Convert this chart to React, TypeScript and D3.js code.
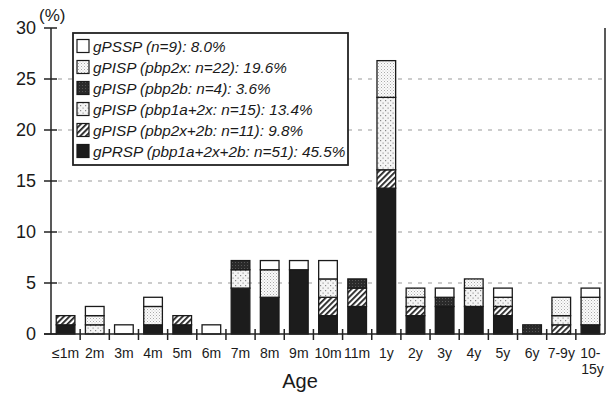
import * as d3 from "d3";

// age groups along the x axis
const ages = ["≤1m", "2m", "3m", "4m", "5m", "6m", "7m", "8m", "9m", "10m", "11m", "1y", "2y", "3y", "4y", "5y", "6y", "7-9y", "10-15y"];

// percentage of isolates per age group, bottom of the stack first
const prsp = [0.9, 0, 0, 0.9, 0.9, 0, 4.5, 3.6, 6.3, 1.8, 2.7, 14.3, 1.8, 2.7, 2.7, 1.8, 0, 0, 0.9];
const pisp2x2b = [0.9, 0, 0, 0, 0.9, 0, 0, 0, 0, 1.8, 1.8, 1.8, 0.9, 0, 0, 0.9, 0, 0.9, 0];
const pisp1a2x = [0, 0.9, 0, 0, 0, 0, 1.8, 0, 0, 1.8, 0, 7.1, 0.9, 0, 1.8, 0.9, 0, 0.9, 0];
const pisp2b = [0, 0, 0, 0, 0, 0, 0.9, 0, 0, 0, 0.9, 0, 0, 0.9, 0, 0, 0.9, 0, 0];
const pisp2x = [0, 0.9, 0, 1.8, 0, 0, 0, 2.7, 0, 0, 0, 3.6, 0.9, 0, 0.9, 0, 0, 1.8, 2.7];
const pssp = [0, 0.9, 0.9, 0.9, 0, 0.9, 0, 0.9, 0.9, 1.8, 0, 0, 0, 0.9, 0, 0.9, 0, 0, 0.9];

const yTicks = [0, 5, 10, 15, 20, 25, 30];

// legend order (top to bottom)
const legendItems = [
  { key: "pssp", label: "gPSSP (n=9): 8.0%" },
  { key: "pisp2x", label: "gPISP (pbp2x: n=22): 19.6%" },
  { key: "pisp2b", label: "gPISP (pbp2b: n=4): 3.6%" },
  { key: "pisp1a2x", label: "gPISP (pbp1a+2x: n=15): 13.4%" },
  { key: "pisp2x2b", label: "gPISP (pbp2x+2b: n=11): 9.8%" },
  { key: "prsp", label: "gPRSP (pbp1a+2x+2b: n=51): 45.5%" },
];

const stackKeys = ["prsp", "pisp2x2b", "pisp1a2x", "pisp2b", "pisp2x", "pssp"];

const fills: Record<string, string> = {
  prsp: "#1c1c1c",
  pisp2x2b: "url(#hatch)",
  pisp1a2x: "url(#sparseDots)",
  pisp2b: "url(#darkDots)",
  pisp2x: "url(#fineDots)",
  pssp: "#ffffff",
};

export default function App() {
  const width = 608;
  const height = 393;
  const font = "'Liberation Sans', Arial, Helvetica, sans-serif";

  const rows = ages.map((age, i) => ({
    age,
    prsp: prsp[i],
    pisp2x2b: pisp2x2b[i],
    pisp1a2x: pisp1a2x[i],
    pisp2b: pisp2b[i],
    pisp2x: pisp2x[i],
    pssp: pssp[i],
  }));

  const series = d3.stack<any>().keys(stackKeys)(rows);

  const x = d3.scaleBand().domain(ages).range([51, 605]).padding(0);
  const y = d3.scaleLinear().domain([0, 30]).range([334, 28]);

  const barW = x.bandwidth() * 0.64;
  const barOff = (x.bandwidth() - barW) / 2;

  const legend = { x: 73, y: 33, w: 275, h: 132 };

  return (
    <svg
      width={width}
      height={height}
      style={{ position: "absolute", left: 0, top: 0, background: "#fff" }}
      fontFamily={font}
    >
      <defs>
        <pattern id="hatch" width={4} height={4} patternUnits="userSpaceOnUse" patternTransform="rotate(45)">
          <rect width={4} height={4} fill="#fff" />
          <rect width={1.8} height={4} fill="#222" />
        </pattern>
        <pattern id="fineDots" width={3} height={3} patternUnits="userSpaceOnUse">
          <rect width={3} height={3} fill="#fbfbfb" />
          <rect x={0} y={0} width={1} height={1} fill="#aaa" />
          <rect x={1.5} y={1.5} width={1} height={1} fill="#c4c4c4" />
        </pattern>
        <pattern id="sparseDots" width={5} height={5} patternUnits="userSpaceOnUse">
          <rect width={5} height={5} fill="#f4f4f4" />
          <rect x={0} y={0} width={1.2} height={1.2} fill="#888" />
          <rect x={2.5} y={2.5} width={1.2} height={1.2} fill="#999" />
        </pattern>
        <pattern id="darkDots" width={3} height={3} patternUnits="userSpaceOnUse">
          <rect width={3} height={3} fill="#2a2a2a" />
          <rect x={1} y={1} width={1} height={1} fill="#555" />
        </pattern>
      </defs>

      {/* grid lines */}
      {yTicks
        .filter((t) => t > 0 && t < 30)
        .map((t) => (
          <line
            key={`g${t}`}
            x1={58}
            x2={605}
            y1={y(t)}
            y2={y(t)}
            stroke="#999"
            strokeWidth={1}
            strokeDasharray="4,6"
          />
        ))}

      {/* bars */}
      {series.map((s) =>
        s.map((d, i) => {
          const h = y(d[0]) - y(d[1]);
          if (h <= 0.1) return null;
          return (
            <rect
              key={`${s.key}-${i}`}
              x={(x(ages[i]) || 0) + barOff}
              y={y(d[1])}
              width={barW}
              height={h}
              fill={fills[s.key]}
              stroke="#1a1a1a"
              strokeWidth={1.3}
            />
          );
        })
      )}

      {/* legend */}
      <rect x={legend.x} y={legend.y} width={legend.w} height={legend.h} fill="#fff" stroke="#222" strokeWidth={1.8} />
      {legendItems.map((item, i) => {
        const cy = 46 + i * 21;
        return (
          <g key={item.key}>
            <rect x={77} y={cy - 6.5} width={12} height={13} fill={fills[item.key]} stroke="#1a1a1a" strokeWidth={1.2} />
            <text x={93} y={cy} dominantBaseline="central" fontSize={15.3} fontStyle="italic" fill="#1a1a1a">
              {item.label}
            </text>
          </g>
        );
      })}

      {/* axes */}
      <line x1={51} x2={51} y1={y(30)} y2={y(0)} stroke="#222" strokeWidth={1.5} />
      <line x1={605} x2={605} y1={y(30)} y2={y(0)} stroke="#222" strokeWidth={1.5} />
      <line x1={44} x2={605} y1={y(0)} y2={y(0)} stroke="#222" strokeWidth={1.5} />

      {yTicks.map((t) => (
        <g key={`y${t}`}>
          <line x1={44} x2={57} y1={y(t)} y2={y(t)} stroke="#222" strokeWidth={1.5} />
          <text x={36} y={y(t)} textAnchor="end" dominantBaseline="central" fontSize={18} fill="#1a1a1a">
            {t}
          </text>
        </g>
      ))}
      <text x={39} y={15} fontSize={17} dominantBaseline="central" fill="#1a1a1a">
        (%)
      </text>

      {ages.slice(1).map((a) => (
        <line key={`xt${a}`} x1={x(a)} x2={x(a)} y1={y(0) - 5} y2={y(0) + 6} stroke="#222" strokeWidth={1.5} />
      ))}

      {ages.map((a) => {
        const cx = (x(a) || 0) + x.bandwidth() / 2;
        if (a === "10-15y") {
          return (
            <g key={`xl${a}`}>
              <text x={cx} y={353} textAnchor="middle" dominantBaseline="central" fontSize={14} fill="#1a1a1a">
                10-
              </text>
              <text x={cx + 2} y={369} textAnchor="middle" dominantBaseline="central" fontSize={14} fill="#1a1a1a">
                15y
              </text>
            </g>
          );
        }
        return (
          <text key={`xl${a}`} x={cx} y={353} textAnchor="middle" dominantBaseline="central" fontSize={14} fill="#1a1a1a">
            {a}
          </text>
        );
      })}

      <text x={300} y={381} textAnchor="middle" dominantBaseline="central" fontSize={20} fill="#1a1a1a">
        Age
      </text>
    </svg>
  );
}
